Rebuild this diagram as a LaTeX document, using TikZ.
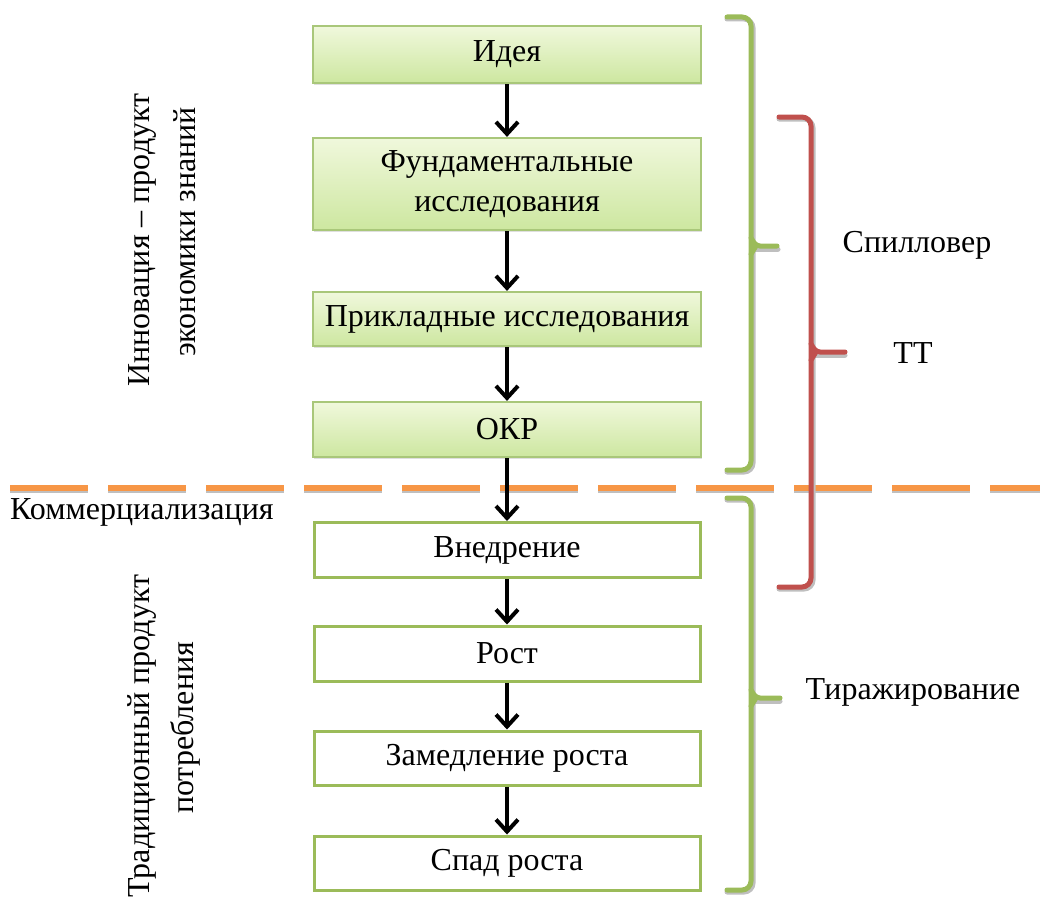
\documentclass[tikz,border=0pt]{standalone}
\usepackage{fontspec}
\setmainfont{Liberation Serif}
\usetikzlibrary{arrows.meta,shadows}
\definecolor{bgreen}{HTML}{9BBB59}
\definecolor{lgreen}{HTML}{A9C77A}
\definecolor{gtop}{HTML}{F0F8DC}
\definecolor{gbot}{HTML}{CDE7A0}
\definecolor{bred}{HTML}{C0504D}
\definecolor{borange}{HTML}{F79646}
\tikzset{
  topbox/.style={draw=lgreen, line width=2.2pt, top color=gtop, bottom color=gbot, minimum width=388pt, align=center, font=\fontsize{32}{40}\selectfont, inner sep=0pt, drop shadow={opacity=0.25, shadow xshift=1pt, shadow yshift=-2pt}},
  botbox/.style={draw=bgreen, line width=3pt, fill=white, minimum width=386pt, align=center, font=\fontsize{32}{40}\selectfont, inner sep=0pt},
  flowarrow/.style={line width=4pt, -{Straight Barb[length=12pt,width=22pt,line width=4pt]}},
  lbl/.style={font=\fontsize{32}{40}\selectfont, inner sep=0pt},
  brace/.style={line width=5pt, rounded corners=9pt, line cap=round},
  braceshadow/.style={line width=5pt, rounded corners=9pt, color=black!25, line cap=round},
}
\begin{document}
\begin{tikzpicture}[x=1pt,y=-1pt]
\useasboundingbox (0,0) rectangle (1040,899);
% top boxes
\node[topbox, minimum height=57pt] (idea) at (507,54.5) {Идея};
\node[topbox, minimum height=92pt] (fund) at (507,184) {Фундаментальные\\исследования};
\node[topbox, minimum height=54pt] (prikl) at (507,319) {Прикладные исследования};
\node[topbox, minimum height=55pt] (okr) at (507,429.5) {ОКР};
% dashed line
\coordinate (dl) at (10,488);
\coordinate (dr) at (1040,488);
\draw[line width=6pt, black!25, dash pattern=on 78pt off 20pt] ([yshift=-2pt]dl) -- ([yshift=-2pt]dr);
\draw[line width=6pt, borange, dash pattern=on 78pt off 20pt] (dl) -- (dr);
% bottom boxes
\node[botbox, minimum height=55pt] (vnedr) at (507,550) {Внедрение};
\node[botbox, minimum height=55pt] (rost) at (507,653.5) {Рост};
\node[botbox, minimum height=54pt] (zamed) at (507,758) {Замедление роста};
\node[botbox, minimum height=54pt] (spad) at (507,863) {Спад роста};
% arrows
\draw[flowarrow] (idea.south) -- (fund.north);
\draw[flowarrow] (fund.south) -- (prikl.north);
\draw[flowarrow] (prikl.south) -- (okr.north);
\draw[flowarrow] (okr.south) -- (vnedr.north);
\draw[flowarrow] (vnedr.south) -- (rost.north);
\draw[flowarrow] (rost.south) -- (zamed.north);
\draw[flowarrow] (zamed.south) -- (spad.north);
% green brace top
\draw[braceshadow] (727,19) -- (753,19) -- (753,472) -- (727,472);
\draw[braceshadow, rounded corners=4pt] (753,249) -- (778,249);
\draw[brace, bgreen] (727,17) -- (751,17) -- (751,470) -- (727,470);
\draw[brace, bgreen, rounded corners=4pt] (751,238) -- (756,246) -- (777,246);
\draw[brace, bgreen, rounded corners=4pt] (751,254) -- (756,246);
% red brace
\draw[braceshadow] (779,119) -- (813,119) -- (813,589) -- (779,589);
\draw[braceshadow] (814,355) -- (845,355);
\draw[brace, bred] (779,117) -- (811,117) -- (811,587) -- (779,587);
\draw[brace, bred, rounded corners=4pt] (811,344) -- (816,352) -- (845,352);
\draw[brace, bred, rounded corners=4pt] (811,360) -- (816,352);
% green brace bottom
\draw[braceshadow] (727,500) -- (753,500) -- (753,892) -- (727,892);
\draw[braceshadow] (754,701) -- (780,701);
\draw[brace, bgreen] (727,498) -- (751,498) -- (751,890) -- (727,890);
\draw[brace, bgreen, rounded corners=4pt] (751,690) -- (756,698) -- (780,698);
\draw[brace, bgreen, rounded corners=4pt] (751,706) -- (756,698);
% labels
\node[lbl] (spill) at (917,245) {Спилловер};
\node[lbl] (tt) at (913,353) {ТТ};
\node[lbl] (tiraz) at (913,692) {Тиражирование};
\node[lbl, anchor=west] (komm) at (10,512) {Коммерциализация};
\node[lbl, rotate=90] (inn1) at (142,240) {Инновация – продукт};
\node[lbl, rotate=90] (inn2) at (185,232) {экономики знаний};
\node[lbl, rotate=90] (trad1) at (142,736) {Традиционный продукт};
\node[lbl, rotate=90] (trad2) at (185,728) {потребления};
\end{tikzpicture}
\end{document}
